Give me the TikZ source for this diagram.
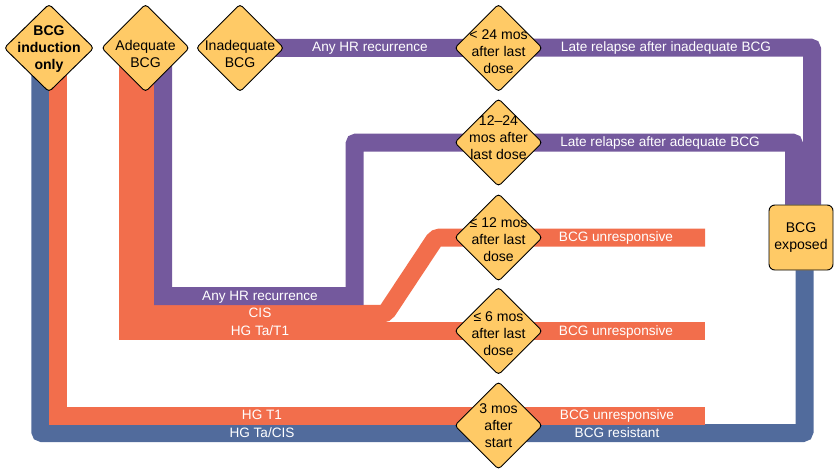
\documentclass[tikz,border=0pt]{standalone}
\usepackage{fontspec}
\setmainfont{Liberation Sans}
\usetikzlibrary{shapes.geometric, positioning, backgrounds}

\definecolor{bcgpurple}{RGB}{116,89,157}
\definecolor{bcgorange}{RGB}{242,110,76}
\definecolor{bcgblue}{RGB}{81,107,156}
\definecolor{bcgyellow}{RGB}{255,202,102}

\newcommand{\decfont}{\fontsize{12pt}{14.5pt}\selectfont}
% text of a diamond, optional downward offset
\newcommand{\dlines}[2][0pt]{\smash{\makebox[0pt]{\raisebox{\dimexpr-0.35em-#1\relax}{\begin{tabular}[c]{@{}c@{}}#2\end{tabular}}}}}

\tikzset{
  decision/.style={
    diamond, draw=black, line width=0.8pt, fill=bcgyellow, rounded corners=3pt,
    minimum width=2.64cm, minimum height=2.64cm, inner sep=0pt, font=\decfont
  },
  exposed/.style={
    rectangle, draw=black, line width=0.8pt, fill=bcgyellow, rounded corners=5pt,
    minimum width=1.92cm, minimum height=1.95cm, align=center, font=\decfont
  },
  band/.style={draw=#1, line width=0.54cm},
  bandtext/.style={
    font=\fontsize{11.6pt}{13pt}\selectfont, text=white, inner sep=0pt,
    text height=8.5pt, text depth=1pt
  }
}

\begin{document}
\begin{tikzpicture}[x=0.03cm, y=-0.03cm]
  \useasboundingbox (0,0) rectangle (834,470);

  % Starting points
  \node[decision, font=\decfont\bfseries, minimum width=2.7cm]
    (ind) at (49,48) {\dlines{BCG\\induction\\only}};
  \node[decision] (adq) at (145.5,48) {\dlines[5.5pt]{Adequate\\BCG}};
  \node[decision] (inad) at (240,48) {\dlines[5.5pt]{Inadequate\\BCG}};

  % Time windows
  \node[decision] (w24) at (498.5,48)   {\dlines[3.4pt]{< 24 mos\\after last\\dose}};
  \node[decision] (w1224) at (498.5,142.5) {\dlines[-4.3pt]{12–24\\mos after\\last dose}};
  \node[decision] (w12) at (498.5,237.5) {\dlines[2.1pt]{≤ 12 mos\\after last\\dose}};
  \node[decision] (w6) at (498.5,331)    {\dlines[2.5pt]{≤ 6 mos\\after last\\dose}};
  \node[decision] (w3) at (498.5,425.5)  {\dlines{3 mos\\after\\start}};

  % Outcome
  \node[exposed] (exp) at (801,237.5) {BCG\\exposed};

  % Turning points and free ends
  \coordinate (blueturn) at (804.5,433);
  \coordinate (t1end)    at (705,415.5);
  \coordinate (tat1end)  at (705,331.25);
  \coordinate (cisa0)    at (300,313.75);
  \coordinate (cisa)     at (385.5,313.75);
  \coordinate (cisb)     at (436,237.5);
  \coordinate (cisend)   at (705,237.5);
  \coordinate (adqlow)   at (354.5,296);
  \coordinate (adqturn)  at (794,142.5);
  \coordinate (inadturn) at (812,47.5);

  % Routes
  \begin{scope}[on background layer]
    \draw[band=bcgblue, rounded corners=0.06cm]
      ([shift={(-8.75,0)}]ind.center) |- (blueturn) -- (blueturn |- exp.south);
    \draw[band=bcgorange] ([shift={(8.75,0)}]ind.center) |- (t1end);
    \draw[band=bcgorange] ([shift={(-0.25,0)}]adq.center) |- (cisa0)
      [rounded corners=0.12cm] -- (cisa) -- (cisb) -- (cisend);
    \draw[band=bcgorange] ([shift={(-17.75,0)}]adq.center) |- (tat1end);
    \draw[band=bcgpurple] ([shift={(17.5,0)}]adq.center) |- (adqlow) -- ++(0,-20)
      [rounded corners=0.06cm] |- (adqturn) -- (adqturn |- exp.north);
    \draw[band=bcgpurple, rounded corners=0.06cm]
      (inad.center) -- (inadturn) -- (inadturn |- exp.north);
  \end{scope}

  % Route labels
  \node[bandtext] (lhrtop) at (370,47.5) {Any HR recurrence};
  \node[bandtext] (linad)  at (666,47.5) {Late relapse after inadequate BCG};
  \node[bandtext] (ladq)   at (660,142.5) {Late relapse after adequate BCG};
  \node[bandtext] (lu12)   at (616,237.5) {BCG unresponsive};
  \node[bandtext] (lu6)    at (616,331)  {BCG unresponsive};
  \node[bandtext] (lu3)    at (617,415.5) {BCG unresponsive};
  \node[bandtext] (lres)   at (617,433)  {BCG resistant};
  \node[bandtext] (lhrlow) at (260,296)  {Any HR recurrence};
  \node[bandtext] (lcis)   at (260,313.5) {CIS};
  \node[bandtext] (ltat1)  at (260,331)  {HG Ta/T1};
  \node[bandtext] (lt1)    at (262,415.5) {HG T1};
  \node[bandtext] (ltacis) at (262,433)  {HG Ta/CIS};
\end{tikzpicture}
\end{document}
